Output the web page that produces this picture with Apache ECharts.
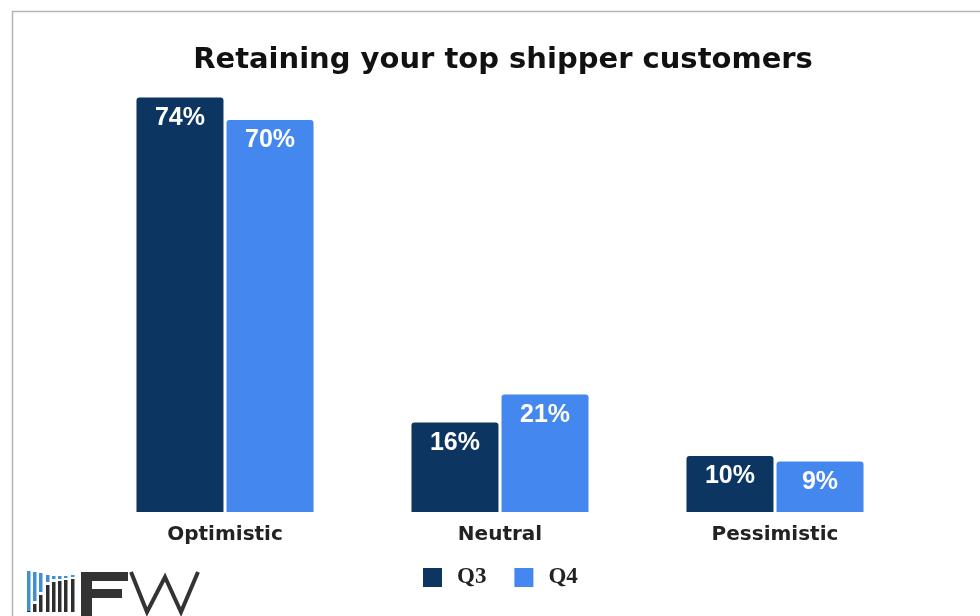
<!DOCTYPE html>
<html>
<head>
<meta charset="utf-8">
<script src="https://cdn.jsdelivr.net/npm/echarts@6/dist/echarts.min.js"></script>
<style>
  html, body { margin: 0; padding: 0; background: #ffffff; }
  #chart { width: 980px; height: 616px; }
</style>
</head>
<body>
<div id="chart"></div>
<script>
// Survey outlook: share of respondents per sentiment, by quarter
const categories = ['Optimistic', 'Neutral', 'Pessimistic'];
const seriesNames = ['Q3', 'Q4'];
const q3Values = [74, 16, 10];
const q4Values = [70, 21, 9];
const titleText = 'Retaining your top shipper customers';

const colorQ3 = '#0c3562';
const colorQ4 = '#4487ef';

// Logo mark: vertical strokes, each with a blue upper part and a dark lower part
const logoBars = [
  { x: 27, blueTop: 571, blueEnd: 611, darkTop: 611 },
  { x: 33, blueTop: 572, blueEnd: 601, darkTop: 604 },
  { x: 39, blueTop: 573, blueEnd: 592, darkTop: 595 },
  { x: 46, blueTop: 575, blueEnd: 582, darkTop: 585 },
  { x: 52, blueTop: 576, blueEnd: 579, darkTop: 582 },
  { x: 58, blueTop: 576, blueEnd: 579, darkTop: 581 },
  { x: 64, blueTop: 576, blueEnd: 578, darkTop: 580 },
  { x: 71, blueTop: 575, blueEnd: 577, darkTop: 579 }
];

const chart = echarts.init(document.getElementById('chart'), null, { renderer: 'canvas' });

const barLabel = {
  show: true,
  position: 'insideTop',
  distance: 8,
  color: '#ffffff',
  fontFamily: '"Liberation Sans", Arial, sans-serif',
  fontWeight: 'bold',
  fontSize: 25,
  formatter: p => p.value + '%'
};

const graphics = [
  // frame line on top and left
  {
    type: 'rect',
    shape: { x: 12.5, y: 11.5, width: 1000, height: 700 },
    style: { fill: 'none', stroke: '#b4b4b4', lineWidth: 1.5 },
    silent: true
  }
];

logoBars.forEach(b => {
  graphics.push({
    type: 'rect',
    shape: { x: b.x, y: b.blueTop, width: 3.5, height: b.blueEnd - b.blueTop },
    style: { fill: '#3f8fd2' }
  });
  if (b.darkTop < 612) {
    graphics.push({
      type: 'rect',
      shape: { x: b.x, y: b.darkTop, width: 3.5, height: 612 - b.darkTop },
      style: { fill: '#2e2e2e' }
    });
  }
});

// wordmark "FW"
graphics.push(
  { type: 'rect', shape: { x: 81, y: 572, width: 11, height: 44 }, style: { fill: '#333333' } },
  { type: 'rect', shape: { x: 81, y: 572, width: 47, height: 9 }, style: { fill: '#333333' } },
  { type: 'rect', shape: { x: 81, y: 589, width: 41, height: 9 }, style: { fill: '#333333' } },
  {
    type: 'polyline',
    shape: { points: [[131, 572], [147, 612], [165, 577], [181, 612], [198, 572]] },
    style: { fill: 'none', stroke: '#333333', lineWidth: 4, lineJoin: 'miter' }
  }
);

chart.setOption({
  backgroundColor: '#ffffff',
  animation: false,
  title: {
    text: titleText,
    left: 498,
    top: 41,
    textAlign: 'center',
    textStyle: {
      fontFamily: '"DejaVu Sans", Verdana, sans-serif',
      fontWeight: 'bold',
      fontSize: 29,
      color: '#111111'
    }
  },
  legend: {
    data: seriesNames,
    top: 566,
    left: 423,
    padding: 0,
    itemWidth: 19,
    itemHeight: 19,
    itemGap: 28,
    icon: 'rect',
    textStyle: {
      fontFamily: '"Liberation Serif", "DejaVu Serif", serif',
      fontWeight: 'bold',
      fontSize: 23,
      color: '#222222',
      padding: [0, 0, 0, 10]
    }
  },
  grid: { left: 87.5, right: 67.5, top: 92, bottom: 104, containLabel: false },
  xAxis: {
    type: 'category',
    data: categories,
    axisLine: { show: false },
    axisTick: { show: false },
    axisLabel: {
      margin: 13,
      fontFamily: '"DejaVu Sans", Verdana, sans-serif',
      fontWeight: 'bold',
      fontSize: 20,
      color: '#222222'
    }
  },
  yAxis: {
    type: 'value',
    min: 0,
    max: 75,
    show: false,
    splitLine: { show: false }
  },
  series: [
    {
      name: seriesNames[0],
      type: 'bar',
      data: q3Values,
      barWidth: 87,
      barGap: '3.5%',
      itemStyle: { color: colorQ3, borderRadius: [3, 3, 0, 0] },
      label: barLabel
    },
    {
      name: seriesNames[1],
      type: 'bar',
      data: q4Values,
      barWidth: 87,
      itemStyle: { color: colorQ4, borderRadius: [3, 3, 0, 0] },
      label: barLabel
    }
  ],
  graphic: graphics
});
</script>
</body>
</html>
